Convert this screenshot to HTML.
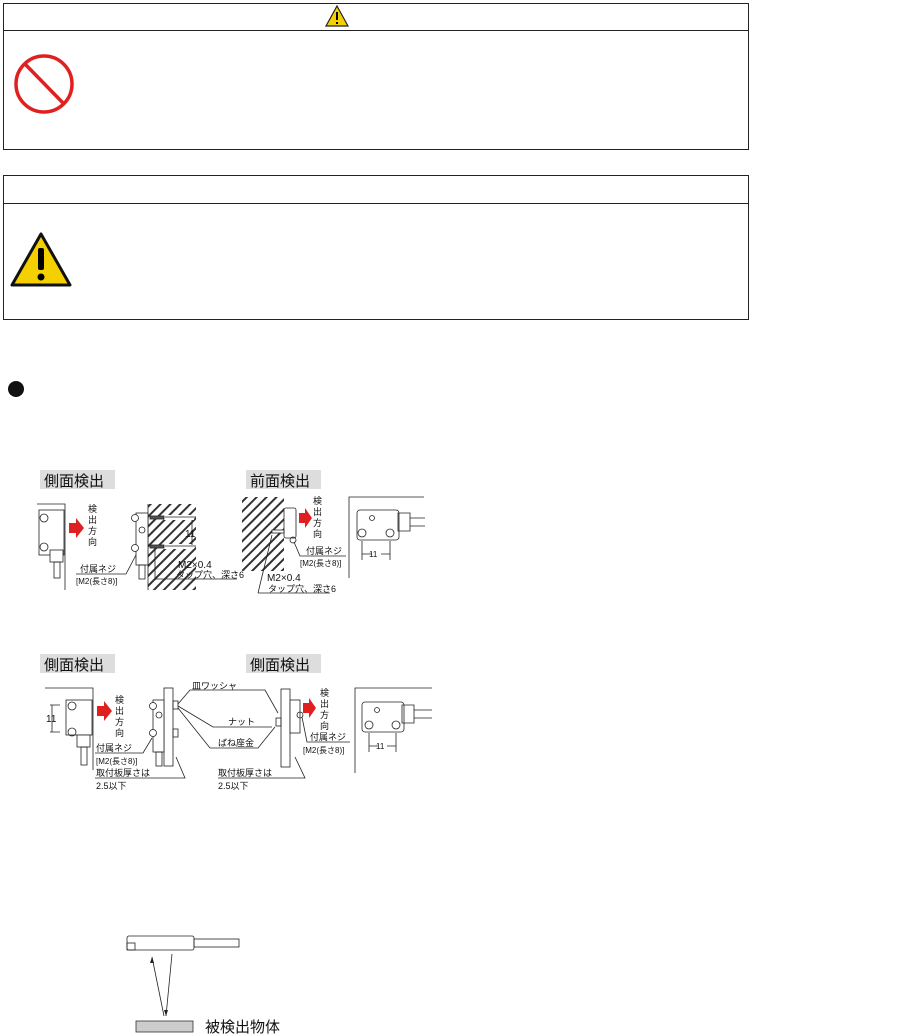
<!DOCTYPE html>
<html><head><meta charset="utf-8"><style>
body{margin:0;background:#fff;width:904px;height:1036px;overflow:hidden}
svg{display:block}
text{font-family:"Liberation Sans","Noto Sans CJK JP",sans-serif;fill:#111}
</style></head><body>
<svg width="904" height="1036" viewBox="0 0 904 1036" xmlns="http://www.w3.org/2000/svg">
<defs>
<pattern id="h" width="7" height="7" patternUnits="userSpaceOnUse" patternTransform="rotate(45)">
<rect width="7" height="7" fill="#fff"/><rect width="2" height="7" fill="#333"/></pattern>
</defs>
<rect x="3.5" y="3.5" width="745" height="146" fill="none" stroke="#222"/>
<line x1="3" y1="30.5" x2="748" y2="30.5" stroke="#222"/>
<path d="M337 6 L348 26 L326 26 Z" fill="#f5d000" stroke="#222" stroke-width="1.2"/>
<rect x="336" y="12" width="2" height="8" fill="#000"/><rect x="336" y="22" width="2" height="2" fill="#000"/>
<circle cx="44" cy="84" r="28" fill="none" stroke="#e02020" stroke-width="3.5"/>
<line x1="25" y1="64" x2="64" y2="104" stroke="#e02020" stroke-width="3.5"/>
<rect x="3.5" y="175.5" width="745" height="144" fill="none" stroke="#222"/>
<line x1="3" y1="203.5" x2="748" y2="203.5" stroke="#222"/>
<path d="M41 234 L70 285 L12 285 Z" fill="#f5d000" stroke="#111" stroke-width="3" stroke-linejoin="round"/>
<rect x="38" y="248" width="6" height="22" rx="2" fill="#000"/><circle cx="41" cy="277" r="3.5" fill="#000"/>
<circle cx="16" cy="389" r="8" fill="#111"/>

<rect x="40" y="470" width="75" height="19" fill="#ddd"/><text x="44" y="486" font-size="15">側面検出</text>
<rect x="246" y="470" width="75" height="19" fill="#ddd"/><text x="250" y="486" font-size="15">前面検出</text>
<rect x="40" y="654" width="75" height="19" fill="#ddd"/><text x="44" y="670" font-size="15">側面検出</text>
<rect x="246" y="654" width="75" height="19" fill="#ddd"/><text x="250" y="670" font-size="15">側面検出</text>

<g stroke="#222" fill="none" stroke-width="0.8">
<path d="M37 504 H65 V590"/>
<rect x="39" y="510" width="25" height="45" fill="#fff"/>
<circle cx="44" cy="518" r="4"/><circle cx="44" cy="547" r="4"/>
<rect x="50" y="550" width="13" height="12" fill="#fff"/><rect x="54" y="562" width="6" height="16"/>
<path d="M76 574 H126 L137 553"/>
<rect x="148" y="504" width="48" height="86" fill="url(#h)" stroke="none"/>
<rect x="164" y="515" width="30" height="5" fill="#fff" stroke="none"/><rect x="164" y="544" width="30" height="5" fill="#fff" stroke="none"/>
<rect x="150" y="516" width="14" height="3" fill="#555"/><rect x="150" y="545" width="14" height="3" fill="#555"/>
<line x1="165" y1="517" x2="196" y2="517"/><line x1="165" y1="546" x2="196" y2="546"/>
<line x1="148" y1="504" x2="148" y2="590"/>
<rect x="136" y="513" width="12" height="52" fill="#fff"/>
<circle cx="135" cy="518" r="3.5" fill="#fff"/><circle cx="135" cy="548" r="3.5" fill="#fff"/>
<circle cx="142" cy="530" r="3"/><rect x="139" y="565" width="6" height="14"/>
<line x1="192" y1="520" x2="192" y2="545"/>
<path d="M155 548 V579 H237"/>
<rect x="242" y="497" width="42" height="74" fill="url(#h)" stroke="none"/>
<rect x="284" y="508" width="12" height="30" rx="2" fill="#fff"/>
<rect x="272" y="530" width="12" height="3" fill="#fff"/>
<circle cx="293" cy="540" r="3"/>
<path d="M294 542 L300 556 H346"/>
<path d="M258 593 L272 535 M258 593 H330"/>
<path d="M424 497 H349 V578"/>
<rect x="357" y="510" width="42" height="30" rx="3" fill="#fff"/>
<circle cx="372" cy="518" r="2.5"/><circle cx="362" cy="533" r="4"/><circle cx="390" cy="533" r="4"/>
<path d="M398 513 H410 V531 H398 Z M410 518 H425 M410 526 H425"/>
<path d="M362 541 V560 M390 541 V560 M362 554 H372 M381 554 H390"/>

<path d="M45 688 H93 V770"/>
<rect x="66" y="700" width="26" height="35" fill="#fff"/>
<circle cx="72" cy="706" r="4"/><circle cx="72" cy="732" r="4"/>
<rect x="77" y="735" width="13" height="12" fill="#fff"/><rect x="81" y="747" width="6" height="18"/>
<path d="M50 705 H60 M50 732 H60 M52 705 V732"/>
<path d="M95 753 H143 L152 738"/>
<rect x="164" y="688" width="9" height="78" fill="#fff"/>
<rect x="153" y="700" width="11" height="52" fill="#fff"/>
<circle cx="153" cy="706" r="3.5" fill="#fff"/><circle cx="153" cy="733" r="3.5" fill="#fff"/>
<circle cx="159" cy="715" r="3"/><rect x="156" y="752" width="6" height="14"/>
<rect x="173" y="701" width="5" height="8"/><rect x="173" y="729" width="5" height="8"/>
<path d="M178 704 L190 690 H265 L278 713"/>
<path d="M178 706 L213 727 H272"/>
<path d="M178 708 L210 748 H258 L275 727"/>
<path d="M95 778 H185 L176 757"/>
<path d="M218 778 H305 L295 757"/>
<rect x="281" y="689" width="9" height="78" fill="#fff"/>
<rect x="290" y="700" width="10" height="33" fill="#fff"/>
<rect x="276" y="718" width="5" height="8"/>
<circle cx="300" cy="715" r="3"/>
<path d="M302 717 L307 742 H350"/>
<path d="M432 688 H355 V773"/>
<rect x="362" y="702" width="42" height="30" rx="3" fill="#fff"/>
<circle cx="377" cy="710" r="2.5"/><circle cx="369" cy="725" r="4"/><circle cx="396" cy="725" r="4"/>
<path d="M402 705 H414 V723 H402 Z M414 710 H432 M414 718 H432"/>
<path d="M369 733 V752 M396 733 V752 M369 746 H378 M387 746 H396"/>

<rect x="127" y="936" width="67" height="14" rx="2" fill="#fff"/>
<rect x="127" y="943" width="8" height="7"/>
<rect x="194" y="939" width="45" height="8"/>
<path d="M152 957 L164 1016 M172 954 L166 1016"/>
</g>
<path d="M69 523 H76 V518 L84 528 L76 538 V533 H69 Z" fill="#e02020"/>
<path d="M299 513 H305 V508 L312 518 L305 528 V523 H299 Z" fill="#e02020"/>
<path d="M97 706 H104 V701 L112 711 L104 721 V716 H97 Z" fill="#e02020"/>
<path d="M303 703 H309 V698 L316 708 L309 718 V713 H303 Z" fill="#e02020"/>
<path d="M152 957 l-2 6 l4 0 z M166 1016 l-2 -6 l4 0 z" fill="#222"/>
<rect x="136" y="1021" width="57" height="11" fill="#ccc" stroke="#333" stroke-width="0.8"/>
<text x="205" y="1032" font-size="15">被検出物体</text>

<g font-size="9">
<text x="88" y="512">検</text><text x="88" y="523">出</text><text x="88" y="534">方</text><text x="88" y="545">向</text>
<text x="80" y="572">付属ネジ</text><text x="76" y="584" font-size="8">[M2(長さ8)]</text>
<text x="185" y="537" font-size="10">11</text>
<text x="178" y="568" font-size="10">M2×0.4</text><text x="176" y="578">タップ穴、深さ6</text>
<text x="313" y="504">検</text><text x="313" y="515">出</text><text x="313" y="526">方</text><text x="313" y="537">向</text>
<text x="306" y="554">付属ネジ</text><text x="300" y="566" font-size="8">[M2(長さ8)]</text>
<text x="267" y="581" font-size="10">M2×0.4</text><text x="268" y="592">タップ穴、深さ6</text>
<text x="369" y="557" font-size="8">11</text>
<text x="46" y="722" font-size="10">11</text>
<text x="115" y="703">検</text><text x="115" y="714">出</text><text x="115" y="725">方</text><text x="115" y="736">向</text>
<text x="96" y="751">付属ネジ</text><text x="96" y="764" font-size="8">[M2(長さ8)]</text>
<text x="96" y="776">取付板厚さは</text><text x="96" y="789">2.5以下</text>
<text x="192" y="689">皿ワッシャ</text><text x="228" y="725">ナット</text><text x="218" y="746">ばね座金</text>
<text x="218" y="776">取付板厚さは</text><text x="218" y="789">2.5以下</text>
<text x="320" y="696">検</text><text x="320" y="707">出</text><text x="320" y="718">方</text><text x="320" y="729">向</text>
<text x="310" y="740">付属ネジ</text><text x="303" y="753" font-size="8">[M2(長さ8)]</text>
<text x="376" y="749" font-size="8">11</text>
</g>
</svg>
</body></html>
